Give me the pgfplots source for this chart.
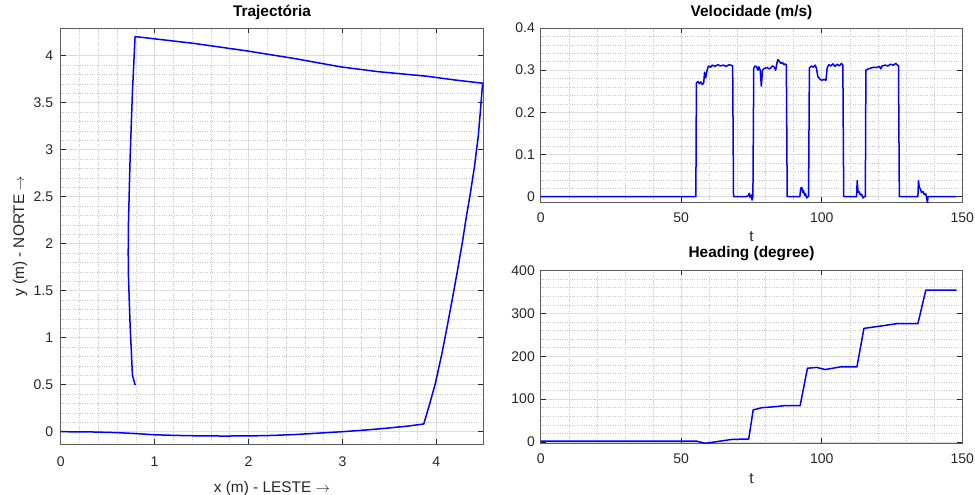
\documentclass[border=0pt]{standalone}
\usepackage{pgfplots}
\pgfplotsset{compat=1.18}
\usepackage{fontspec}
\setmainfont{Liberation Sans}
\definecolor{axcol}{HTML}{262626}
\definecolor{mgrid}{HTML}{DCDCDC}
\definecolor{ngrid}{HTML}{C8C8C8}
\pgfplotsset{
  mstyle/.style={
    scale only axis,
    anchor=south west,
    axis line style={color=axcol!75, line width=0.9pt},
    tick align=inside,
    tick pos=both,
    major tick length=5pt,
    minor tick length=0pt,
    every tick/.style={color=axcol, line width=0.7pt},
    grid=both,
    major grid style={color=mgrid, line width=0.6pt},
    minor grid style={color=ngrid, dotted, line width=0.5pt},
    minor x tick num=4,
    minor y tick num=4,
    /pgf/number format/assume math mode=true,
    tick label style={font=\fontsize{14}{16}\selectfont, color=axcol},
    label style={font=\fontsize{15.4}{18}\selectfont, color=axcol},
    title style={font=\bfseries\fontsize{15.4}{18}\selectfont, color=black, anchor=base},
    scaled ticks=false,
  },
  dline/.style={color=blue, line width=1.5pt, line join=round},
}
\begin{document}
\begin{tikzpicture}[x=1pt,y=1pt]
\useasboundingbox (0,0) rectangle (975,495);

% Trajectory
\begin{axis}[mstyle,
  at={(60.7pt,50.7pt)}, width=422.6pt, height=416pt,
  xmin=0, xmax=4.5, ymin=-0.134, ymax=4.29,
  xtick={0,1,2,3,4}, ytick={0,0.5,1,1.5,2,2.5,3,3.5,4},
  yticklabels={0,0.5,1,1.5,2,2.5,3,3.5,4},
  xticklabel style={inner sep=0pt, yshift=-12.5pt},
  yticklabel style={inner sep=0pt, xshift=-7.4pt},
  title={Trajectória},
  title style={at={([yshift=5.6pt]axis description cs:0.5,1)}},
  xlabel={x (m) - LESTE $\rightarrow$},
  xlabel style={at={([yshift=-48.4pt]axis description cs:0.5,0)}, anchor=base},
  ylabel={y (m) - NORTE $\rightarrow$},
  ylabel style={at={([xshift=-36.7pt]axis description cs:0,0.5)}, anchor=base, rotate=0},
]
\addplot[dline] coordinates {
(0,0) (0.3,-0.002) (0.6,-0.01) (0.8,-0.02) (1.0,-0.033) (1.25,-0.04)
(1.5,-0.045) (1.75,-0.046) (2.0,-0.045) (2.25,-0.04) (2.5,-0.03)
(2.75,-0.015) (3.0,0.0) (3.25,0.018) (3.5,0.04) (3.7,0.06) (3.866,0.082)
(3.93,0.3) (3.99,0.515) (4.06,0.834) (4.115,1.117) (4.168,1.40)
(4.22,1.685) (4.275,2.0) (4.32,2.29) (4.363,2.54) (4.406,2.82)
(4.446,3.14) (4.47,3.42) (4.488,3.65) (4.495,3.706)
(4.2,3.74) (3.90,3.78) (3.37,3.83) (2.98,3.88) (2.48,3.97) (1.98,4.05)
(1.414,4.13) (0.792,4.202)
(0.764,3.617) (0.739,2.91) (0.721,2.20) (0.719,1.9) (0.721,1.667)
(0.739,1.135) (0.764,0.60) (0.79,0.505) (0.80,0.50)
};
\end{axis}

% Velocity
\begin{axis}[mstyle,
  at={(540.7pt,292.7pt)}, width=421.6pt, height=174.3pt,
  xmin=0, xmax=150, ymin=-0.0133, ymax=0.4,
  xtick={0,50,100,150}, ytick={0,0.1,0.2,0.3,0.4},
  yticklabels={0,0.1,0.2,0.3,0.4},
  xticklabel style={inner sep=0pt, yshift=-10.6pt},
  yticklabel style={inner sep=0pt, xshift=-5.7pt},
  title={Velocidade (m/s)},
  title style={at={([yshift=5.5pt]axis description cs:0.5,1)}},
  xlabel={t},
  xlabel style={at={([yshift=-39.7pt]axis description cs:0.5,0)}, anchor=base},
]
\addplot[dline] coordinates {
(0,0) (55.2,0) (55.4,0.27) (56,0.273) (56.5,0.268) (57,0.272) (57.5,0.266)
(58,0.27) (58.3,0.295) (58.7,0.282) (59.2,0.30) (59.7,0.31) (60.5,0.307)
(61,0.312) (62,0.309) (63,0.313) (64,0.31) (65,0.312) (66,0.309) (67,0.313)
(68,0.311) (68.3,0.31) (68.6,0.0) (70,0) (73,0) (73.8,0.002) (74.2,0.008)
(74.5,-0.002) (74.9,0.004) (75.2,-0.008) (75.5,0.0) (75.8,0.305) (76.3,0.31)
(76.8,0.308) (77.3,0.30) (77.6,0.308) (78.1,0.30) (78.5,0.262) (78.9,0.30)
(79.5,0.304) (80.5,0.306) (81.5,0.303) (82.5,0.31) (83,0.308) (83.6,0.30)
(84.1,0.318) (84.4,0.325) (85,0.32) (85.5,0.316) (86,0.318) (86.5,0.313)
(87,0.315) (87.4,0.312) (87.7,0) (92.2,0) (92.5,0.02) (92.9,0.022)
(93.2,0.01) (93.5,0.015) (93.9,0.003) (94.2,0.007) (94.6,-0.003) (95.0,0.0)
(95.3,0.0) (95.6,0.305) (96.3,0.31) (97,0.307) (97.6,0.312) (98.1,0.305)
(98.6,0.285) (99.3,0.279) (100,0.276) (100.8,0.278) (101.5,0.276)
(101.9,0.305) (102.5,0.313) (103.2,0.31) (104,0.315) (104.7,0.309)
(105.5,0.314) (106.3,0.31) (107,0.316) (107.5,0.312) (107.8,0) (112.4,0)
(112.6,0.038) (112.9,0.01) (113.3,0.012) (113.7,0.004) (114.2,0.006)
(114.6,-0.003) (115.1,0.0) (115.5,0.0) (115.7,0.3) (116.5,0.303)
(117.5,0.305) (118.5,0.307) (119.5,0.306) (120.5,0.309) (121,0.303)
(121.5,0.31) (122.5,0.312) (123.5,0.31) (124.5,0.314) (125.5,0.312)
(126.3,0.316) (126.8,0.313) (127.3,0.31) (127.6,0) (134.2,0) (134.4,0.038)
(134.7,0.022) (135.1,0.018) (135.5,0.01) (136,0.012) (136.5,0.005)
(137,0.007) (137.3,-0.003) (137.6,-0.015) (137.8,0) (148,0)
};
\end{axis}

% Heading
\begin{axis}[mstyle,
  at={(540.7pt,51.7pt)}, width=421.6pt, height=172.8pt,
  xmin=0, xmax=150, ymin=-3, ymax=400,
  xtick={0,50,100,150}, ytick={0,100,200,300,400},
  xticklabel style={inner sep=0pt, yshift=-10.6pt},
  yticklabel style={inner sep=0pt, xshift=-5.7pt},
  title={Heading (degree)},
  title style={at={([yshift=6.7pt]axis description cs:0.5,1)}},
  xlabel={t},
  xlabel style={at={([yshift=-40.7pt]axis description cs:0.5,0)}, anchor=base},
]
\addplot[dline] coordinates {
(0,2) (55.5,2) (58.5,-3) (68,6) (74,7) (75.6,75) (77,77) (78.6,80)
(82.8,82) (87,85) (92.3,85) (94.9,172) (98.2,174) (101.2,169) (106.5,175)
(112.5,175) (115,265) (120.5,270) (126.7,276) (134.2,276) (137,354) (148,354)
};
\end{axis}
\end{tikzpicture}
\end{document}
